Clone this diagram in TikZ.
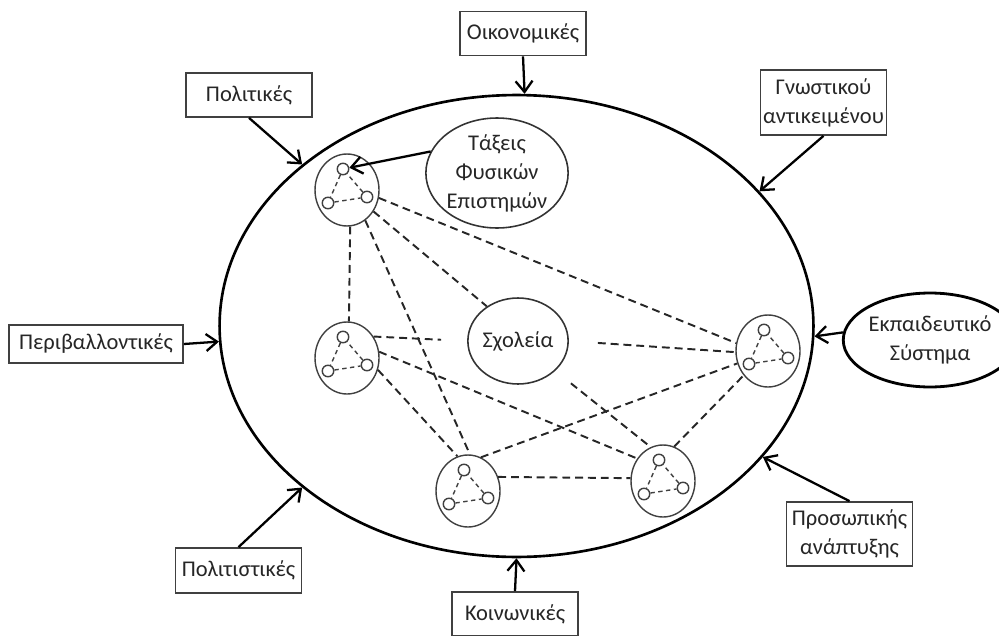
\documentclass[tikz,border=0pt]{standalone}
\usepackage{fontspec}
\setmainfont{Carlito}
\usetikzlibrary{shapes.geometric,arrows.meta}

\tikzset{
  forcebox/.style={draw=black!75, line width=1pt, minimum width=2.52cm,
    minimum height=0.88cm, align=center, inner sep=1pt, text=black!85},
  infl/.style={line width=1.3pt, -{Straight Barb[length=0.22cm,width=0.34cm]}},
  cluster/.style={ellipse, draw=black!75, line width=0.8pt, minimum width=1.28cm,
    minimum height=1.44cm, inner sep=0pt},
  member/.style={circle, draw=black!75, line width=0.8pt, minimum size=0.23cm, inner sep=0pt},
  inner/.style={black!75, line width=0.8pt, dash pattern=on 2.5pt off 2pt},
  tie/.style={black!85, line width=1.1pt, dash pattern=on 4.5pt off 2.8pt},
}

\begin{document}
\begin{tikzpicture}[x=0.02cm, y=-0.02cm, font=\fontsize{12.8}{16.5}\selectfont]

\useasboundingbox (0,0) rectangle (999,635);

% the system
\node[ellipse, draw, line width=1.5pt, minimum width=11.88cm, minimum height=9.24cm,
  inner sep=0pt] (sys) at (516.5,326) {};

% outside forces
\node[forcebox] (oik) at (523,33.5) {Οικονομικές};
\node[forcebox] (pol) at (249,95) {Πολιτικές};
\node[forcebox, minimum height=1.3cm] (gno) at (823.5,102.5) {Γνωστικού\\αντικειμένου};
\node[forcebox, minimum width=3.48cm, minimum height=0.76cm] (per) at (96,344) {Περιβαλλοντικές};
\node[ellipse, draw, line width=1.6pt, minimum width=2.72cm, minimum height=1.88cm,
  inner sep=0pt, align=center, text=black!85] (edu) at (930,340) {Εκπαιδευτικό\\Σύστημα};
\node[forcebox, minimum height=1.28cm] (pro) at (849.5,534) {Προσωπικής\\ανάπτυξης};
\node[forcebox, minimum height=0.9cm] (polit) at (238.5,570.5) {Πολιτιστικές};
\node[forcebox] (koi) at (515,614) {Κοινωνικές};

\draw[infl] (oik.south) -- (sys.88);
\draw[infl] (pol.south) -- (sys.143);
\draw[infl] (gno.south) -- (sys.29);
\draw[infl] (per.east) -- (sys.183);
\draw[infl] (edu.175) -- (sys.358);
\draw[infl] (pro.north) -- (sys.332);
\draw[infl] (polit.north) -- (sys.217);
\draw[infl] (koi.north) -- (sys.270);

% schools and classes
\node[ellipse, draw=black!80, line width=0.9pt, minimum width=1.6cm, minimum height=1.72cm,
  inner sep=0pt, text=black!85] (sch) at (518,341) {Σχολεία};
\node[ellipse, draw=black!80, line width=0.9pt, minimum width=2.72cm, minimum height=2.2cm,
  inner sep=0pt, align=center, text=black!85] (tax) at (497,173) {Τάξεις\\Φυσικών\\Επιστημών};

\foreach \n/\x/\y in {c1/347/190, c2/347/358, c3/468/491, c4/663/481, c5/768/351}{
  \node[cluster] (\n) at (\x,\y) {};
  \node[member] (\n-a) at ({\x-4},{\y-21}) {};
  \node[member] (\n-b) at ({\x-19},{\y+13}) {};
  \node[member] (\n-c) at ({\x+20},{\y+7}) {};
  \draw[inner] (\n-a) -- (\n-b) -- (\n-c) -- (\n-a);
}

\draw[infl] (tax.162) -- (c1-a);

% links
\draw[tie] (c1.275) -- (c2.87);
\draw[tie] (c1.301) -- (c3.87);
\draw[tie] (c1.321) -- (sch.132);
\draw[tie] (c1.346) -- (c5.166);
\draw[tie, shorten >=0.52cm] (c2.39) -- (sch.west);
\draw[tie] (c2.11) -- (c4.139);
\draw[tie] (c2.339) -- (c3.107);
\draw[tie, shorten <=0.4cm] (sch) -- (c4.110);
\draw[tie, shorten <=0.58cm] (sch.east) -- (c5.182);
\draw[tie] (c3.69) -- (c5.202);
\draw[tie] (c3.25) -- (c4.175);
\draw[tie] (c4.72) -- (c5.225);

\end{tikzpicture}
\end{document}
